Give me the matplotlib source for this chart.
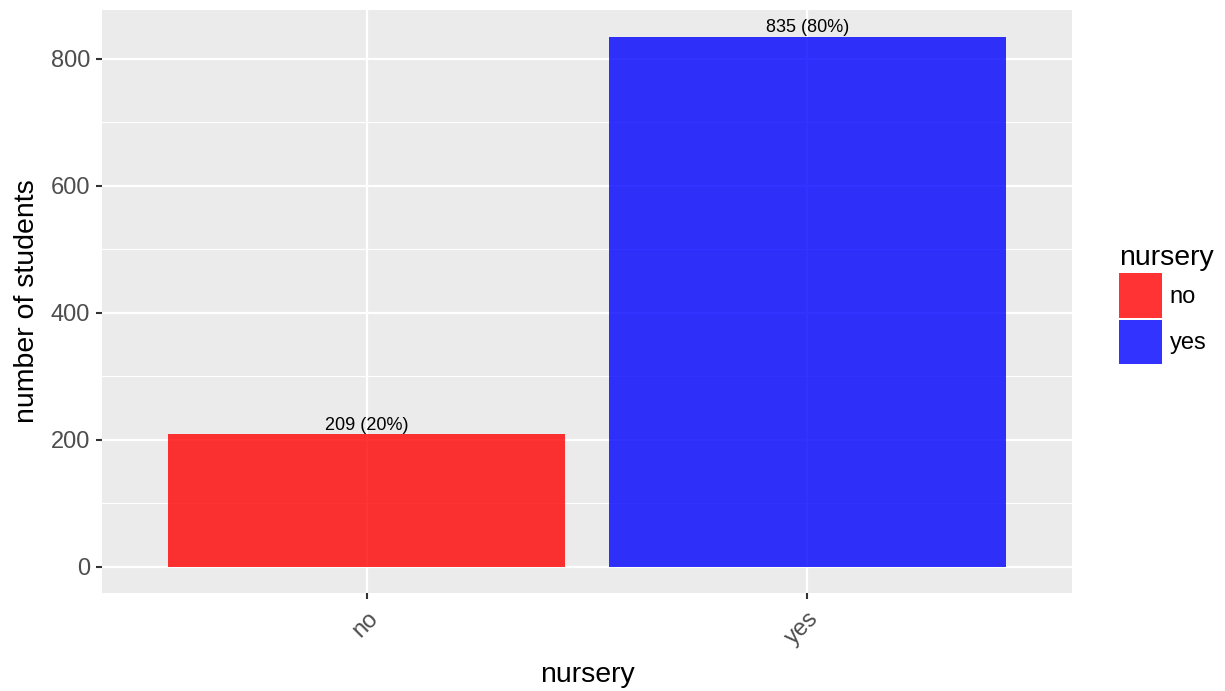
import numpy as np
import matplotlib.pyplot as plt
from matplotlib.patches import Patch

plt.rcParams['font.family'] = ['Liberation Sans', 'DejaVu Sans']

categories = ['no', 'yes']
counts = [209, 835]
percents = [20, 80]
colors = ['#FF0000', '#0000FF']

W, H = 1225, 691
fig = plt.figure(figsize=(W / 100, H / 100), dpi=100)
ax = fig.add_axes([102 / W, (H - 593) / H, 970 / W, 583 / H])
ax.set_facecolor('#EBEBEB')

x = np.arange(1, len(categories) + 1)
ax.bar(x, counts, width=0.9, color=colors, alpha=0.8, zorder=3)
for xi, c, p in zip(x, counts, percents):
    ax.text(xi, c, '%d (%d%%)' % (c, p), ha='center', va='bottom',
            fontsize=13, color='black', zorder=4)

ymax = max(counts)
ax.set_xlim(0.4, len(categories) + 0.6)
ax.set_ylim(-0.05 * ymax, 1.05 * ymax)
ax.set_yticks([0, 200, 400, 600, 800])
ax.set_yticks([100, 300, 500, 700], minor=True)
ax.set_xticks(x)
ax.set_xticklabels(categories, rotation=45, ha='right', va='top',
                   rotation_mode='anchor')

ax.grid(True, which='major', color='white', linewidth=1.6, zorder=0)
ax.grid(True, which='minor', axis='y', color='white', linewidth=0.8, zorder=0)
ax.set_axisbelow(True)
for s in ax.spines.values():
    s.set_visible(False)
ax.tick_params(axis='both', which='major', length=4.5, width=1.5, color='#333333',
               labelsize=17, labelcolor='#4D4D4D', pad=4)
ax.tick_params(axis='x', which='major', pad=6)
ax.tick_params(axis='y', which='minor', length=0)

ax.set_xlabel('nursery', fontsize=20.5, labelpad=9)
ax.set_ylabel('number of students', fontsize=20.5, labelpad=8)

handles = [Patch(facecolor=c, alpha=0.8, edgecolor='none') for c in colors]
leg = fig.legend(handles, categories, title='nursery', loc='upper left',
                 bbox_to_anchor=(1110 / W, 1 - 236 / H), frameon=False,
                 fontsize=17, title_fontsize=20.5, handlelength=1.82,
                 handleheight=2.52, labelspacing=0.08, handletextpad=0.3,
                 borderaxespad=0)
leg._legend_box.align = 'left'

fig.savefig('out.png', dpi=100)
